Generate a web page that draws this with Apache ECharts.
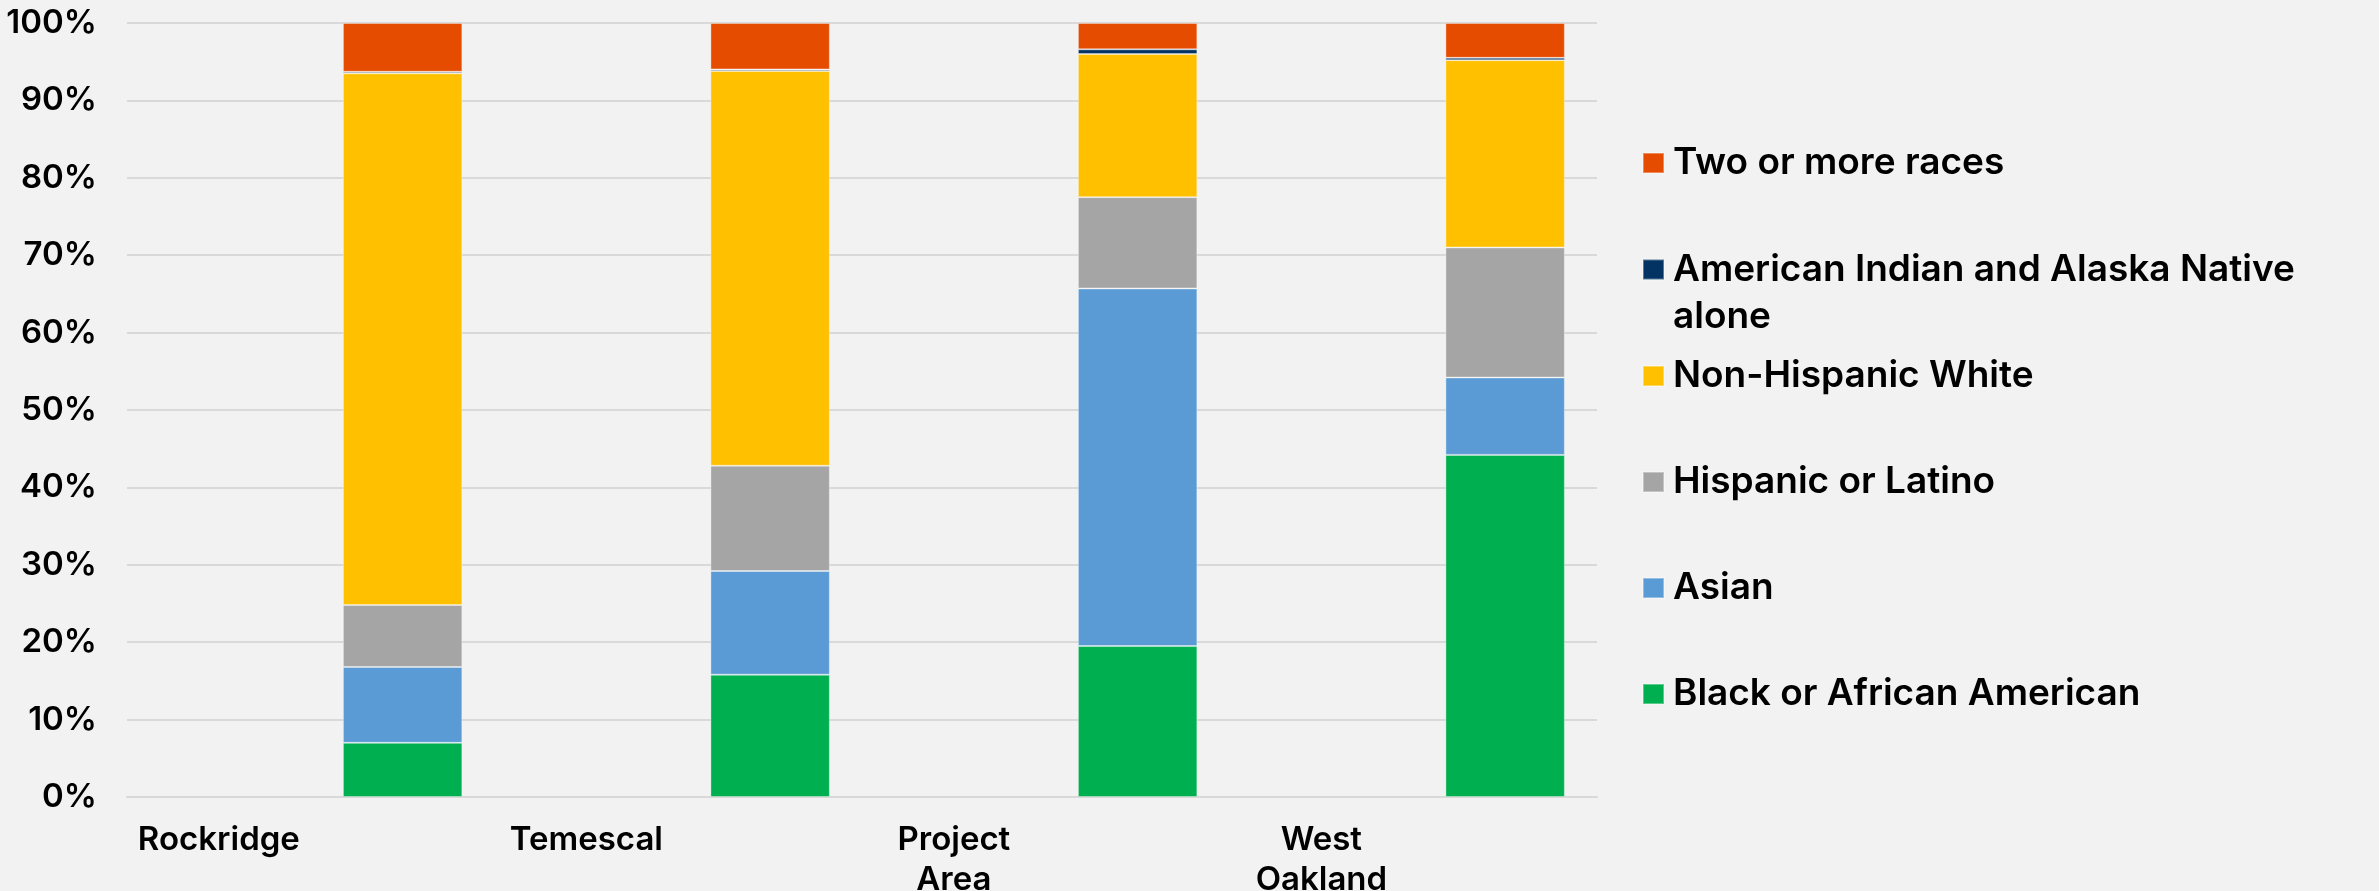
<!DOCTYPE html>
<html>
<head>
<meta charset="utf-8">
<script src="https://cdn.jsdelivr.net/npm/echarts@6/dist/echarts.min.js"></script>
<style>
  html, body { margin: 0; padding: 0; background: #f2f2f2; }
  #main { width: 2379px; height: 891px; }
</style>
</head>
<body>
<div id="main"></div>
<script>
var places = ['Rockridge', 'Temescal', 'Project\nArea', 'West\nOakland'];

var black = [7.0, 15.8, 19.5, 44.2];
var asian = [9.8, 13.4, 46.2, 10.0];
var hispanic = [8.0, 13.6, 11.8, 16.8];
var white = [68.7, 51.0, 18.5, 24.2];
var aian = [0.2, 0.2, 0.6, 0.3];
var twoOrMore = [6.3, 6.0, 3.4, 4.5];

var yTicks = [0, 10, 20, 30, 40, 50, 60, 70, 80, 90, 100];

// the chart puts each bar one slot to the right of its label
var slots = [];
places.forEach(function (p) { slots.push(p, ''); });
function spread(arr) {
    var out = [];
    arr.forEach(function (v) { out.push('-', v); });
    return out;
}

var font = 'Inter';
var myChart = echarts.init(document.getElementById('main'));

var seriesDefs = [
    { name: 'Black or African American', data: black, color: '#00b050' },
    { name: 'Asian', data: asian, color: '#5b9bd5' },
    { name: 'Hispanic or Latino', data: hispanic, color: '#a5a5a5' },
    { name: 'Non-Hispanic White', data: white, color: '#ffc000' },
    { name: 'American Indian and Alaska Native alone', data: aian, color: '#033363' },
    { name: 'Two or more races', data: twoOrMore, color: '#e54c00' }
];

var legendText = {
    color: '#000',
    fontFamily: font,
    fontWeight: 600,
    fontSize: 37,
    lineHeight: 40,
    padding: [0, 0, 0, 4]
};

function legendAt(name, top, extra) {
    var l = {
        data: [name],
        left: 1642,
        top: top,
        padding: 0,
        icon: 'rect',
        itemWidth: 21,
        itemHeight: 20,
        selectedMode: false,
        textStyle: legendText
    };
    return Object.assign(l, extra || {});
}

var option = {
    backgroundColor: '#f2f2f2',
    animation: false,
    grid: {
        left: 127,
        right: 782,
        top: 23,
        bottom: 94,
        containLabel: false,
        outerBoundsMode: 'none'
    },
    legend: [
        legendAt('Two or more races', 143),
        legendAt('American Indian and Alaska Native alone', 199, {
            formatter: function () { return '\nAmerican Indian and Alaska Native\nalone'; },
            textStyle: Object.assign({}, legendText, { lineHeight: 47 })
        }),
        legendAt('Non-Hispanic White', 356),
        legendAt('Hispanic or Latino', 462),
        legendAt('Asian', 568),
        legendAt('Black or African American', 674)
    ],
    xAxis: {
        type: 'category',
        data: slots,
        axisTick: { show: false },
        axisLine: { lineStyle: { color: '#d9d9d9', width: 2 } },
        axisLabel: {
            interval: 0,
            color: '#000',
            fontFamily: font,
            fontWeight: 600,
            fontSize: 33,
            lineHeight: 40,
            margin: 23
        }
    },
    yAxis: {
        type: 'value',
        min: yTicks[0],
        max: yTicks[yTicks.length - 1],
        interval: 10,
        axisLine: { show: false },
        axisTick: { show: false },
        splitLine: { lineStyle: { color: '#d9d9d9', width: 2 } },
        axisLabel: {
            formatter: '{value}%',
            color: '#000',
            fontFamily: font,
            fontWeight: 600,
            fontSize: 33,
            margin: 30
        }
    },
    series: seriesDefs.map(function (s) {
        return {
            name: s.name,
            type: 'bar',
            stack: 'total',
            barWidth: '65%',
            data: spread(s.data),
            itemStyle: {
                color: s.color,
                borderColor: 'rgba(255,255,255,0.35)',
                borderWidth: 1
            }
        };
    })
};

myChart.setOption(option);
</script>
</body>
</html>
